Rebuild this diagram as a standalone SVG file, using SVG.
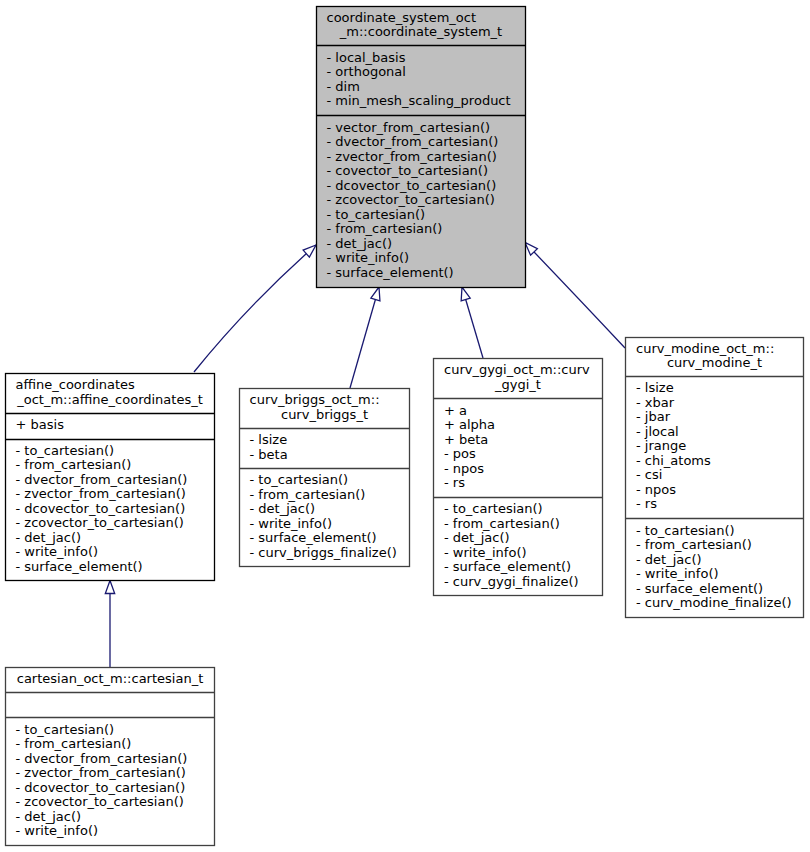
<svg xmlns="http://www.w3.org/2000/svg" width="810" height="852" viewBox="0 0 810 852">
<style>
text{font-family:"DejaVu Sans","Liberation Sans",sans-serif;font-size:13px;fill:#000}
.box{fill:#fff;stroke:#404040;stroke-width:1.3}
.root{fill:#bfbfbf;stroke:#000;stroke-width:1.3}
.blk{fill:#fff;stroke:#000;stroke-width:1.3}
.sep{stroke:#404040;stroke-width:1.3}
.sepk{stroke:#000;stroke-width:1.3}
.c{text-anchor:middle}
.edge{fill:none;stroke:#191970;stroke-width:1.3}
</style>
<defs>
<marker id="arr" markerUnits="userSpaceOnUse" markerWidth="18" markerHeight="16" viewBox="-16 -8 18 16" refX="0" refY="0" orient="auto">
<path d="M0,0 L-13,-4.7 L-13,4.7 Z" fill="#fff" stroke="#191970" stroke-width="1.3"/>
</marker>
</defs>
<g id="connectors">
<path class="edge" d="M194,372 Q248,305 316,245" marker-end="url(#arr)"/>
<path class="edge" d="M350,388 L379,287" marker-end="url(#arr)"/>
<path class="edge" d="M483,358 L462,287" marker-end="url(#arr)"/>
<path class="edge" d="M625,348 Q580,300 525,242.5" marker-end="url(#arr)"/>
<path class="edge" d="M110,667 L110,580.5" marker-end="url(#arr)"/>
</g>
<g id="coordinate_system_t">
<rect class="root" x="316.5" y="6.5" width="209" height="281"/>
<line class="sepk" x1="316.5" y1="45.5" x2="525.5" y2="45.5"/>
<line class="sepk" x1="316.5" y1="115.5" x2="525.5" y2="115.5"/>
<text x="326.5" y="21.5">coordinate_system_oct</text>
<text class="c" x="421" y="36">_m::coordinate_system_t</text>
<text x="326.5" y="61.5">- local_basis</text>
<text x="326.5" y="76">- orthogonal</text>
<text x="326.5" y="90.5">- dim</text>
<text x="326.5" y="105">- min_mesh_scaling_product</text>
<text x="326.5" y="131.5">- vector_from_cartesian()</text>
<text x="326.5" y="146">- dvector_from_cartesian()</text>
<text x="326.5" y="160.5">- zvector_from_cartesian()</text>
<text x="326.5" y="175">- covector_to_cartesian()</text>
<text x="326.5" y="189.5">- dcovector_to_cartesian()</text>
<text x="326.5" y="204">- zcovector_to_cartesian()</text>
<text x="326.5" y="218.5">- to_cartesian()</text>
<text x="326.5" y="233">- from_cartesian()</text>
<text x="326.5" y="247.5">- det_jac()</text>
<text x="326.5" y="262">- write_info()</text>
<text x="326.5" y="276.5">- surface_element()</text>
</g>
<g id="affine_coordinates_t">
<rect class="blk" x="5.5" y="373.5" width="209" height="207"/>
<line class="sepk" x1="5.5" y1="413.5" x2="214.5" y2="413.5"/>
<line class="sepk" x1="5.5" y1="439.5" x2="214.5" y2="439.5"/>
<text x="15.5" y="389">affine_coordinates</text>
<text class="c" x="110" y="403.5">_oct_m::affine_coordinates_t</text>
<text x="15.5" y="429.25">+ basis</text>
<text x="15.5" y="454.75">- to_cartesian()</text>
<text x="15.5" y="469.25">- from_cartesian()</text>
<text x="15.5" y="483.75">- dvector_from_cartesian()</text>
<text x="15.5" y="498.25">- zvector_from_cartesian()</text>
<text x="15.5" y="512.75">- dcovector_to_cartesian()</text>
<text x="15.5" y="527.25">- zcovector_to_cartesian()</text>
<text x="15.5" y="541.75">- det_jac()</text>
<text x="15.5" y="556.25">- write_info()</text>
<text x="15.5" y="570.75">- surface_element()</text>
</g>
<g id="curv_briggs_t">
<rect class="box" x="239.5" y="388.5" width="170" height="178"/>
<line class="sep" x1="239.5" y1="428.5" x2="409.5" y2="428.5"/>
<line class="sep" x1="239.5" y1="468.5" x2="409.5" y2="468.5"/>
<text x="249.5" y="404">curv_briggs_oct_m::</text>
<text class="c" x="324.5" y="418.5">curv_briggs_t</text>
<text x="249.5" y="444">- lsize</text>
<text x="249.5" y="458.5">- beta</text>
<text x="249.5" y="484">- to_cartesian()</text>
<text x="249.5" y="498.5">- from_cartesian()</text>
<text x="249.5" y="513">- det_jac()</text>
<text x="249.5" y="527.5">- write_info()</text>
<text x="249.5" y="542">- surface_element()</text>
<text x="249.5" y="556.5">- curv_briggs_finalize()</text>
</g>
<g id="curv_gygi_t">
<rect class="box" x="433.5" y="358.5" width="169" height="237"/>
<line class="sep" x1="433.5" y1="398.5" x2="602.5" y2="398.5"/>
<line class="sep" x1="433.5" y1="497.5" x2="602.5" y2="497.5"/>
<text x="444" y="374">curv_gygi_oct_m::curv</text>
<text class="c" x="518" y="388.5">_gygi_t</text>
<text x="444" y="414.5">+ a</text>
<text x="444" y="429">+ alpha</text>
<text x="444" y="443.5">+ beta</text>
<text x="444" y="458">- pos</text>
<text x="444" y="472.5">- npos</text>
<text x="444" y="487">- rs</text>
<text x="444" y="513">- to_cartesian()</text>
<text x="444" y="527.5">- from_cartesian()</text>
<text x="444" y="542">- det_jac()</text>
<text x="444" y="556.5">- write_info()</text>
<text x="444" y="571">- surface_element()</text>
<text x="444" y="585.5">- curv_gygi_finalize()</text>
</g>
<g id="curv_modine_t">
<rect class="box" x="625.5" y="337.5" width="178" height="280"/>
<line class="sep" x1="625.5" y1="376.5" x2="803.5" y2="376.5"/>
<line class="sep" x1="625.5" y1="518.5" x2="803.5" y2="518.5"/>
<text x="636" y="352.5">curv_modine_oct_m::</text>
<text class="c" x="714.5" y="367">curv_modine_t</text>
<text x="636" y="392">- lsize</text>
<text x="636" y="406.5">- xbar</text>
<text x="636" y="421">- jbar</text>
<text x="636" y="435.5">- jlocal</text>
<text x="636" y="450">- jrange</text>
<text x="636" y="464.5">- chi_atoms</text>
<text x="636" y="479">- csi</text>
<text x="636" y="493.5">- npos</text>
<text x="636" y="508">- rs</text>
<text x="636" y="534.5">- to_cartesian()</text>
<text x="636" y="549">- from_cartesian()</text>
<text x="636" y="563.5">- det_jac()</text>
<text x="636" y="578">- write_info()</text>
<text x="636" y="592.5">- surface_element()</text>
<text x="636" y="607">- curv_modine_finalize()</text>
</g>
<g id="cartesian_t">
<rect class="box" x="5.5" y="667.5" width="209" height="178"/>
<line class="sep" x1="5.5" y1="692.5" x2="214.5" y2="692.5"/>
<line class="sep" x1="5.5" y1="717.5" x2="214.5" y2="717.5"/>
<text class="c" x="110" y="682.75">cartesian_oct_m::cartesian_t</text>
<text x="15.5" y="733.5">- to_cartesian()</text>
<text x="15.5" y="748">- from_cartesian()</text>
<text x="15.5" y="762.5">- dvector_from_cartesian()</text>
<text x="15.5" y="777">- zvector_from_cartesian()</text>
<text x="15.5" y="791.5">- dcovector_to_cartesian()</text>
<text x="15.5" y="806">- zcovector_to_cartesian()</text>
<text x="15.5" y="820.5">- det_jac()</text>
<text x="15.5" y="835">- write_info()</text>
</g>
</svg>
